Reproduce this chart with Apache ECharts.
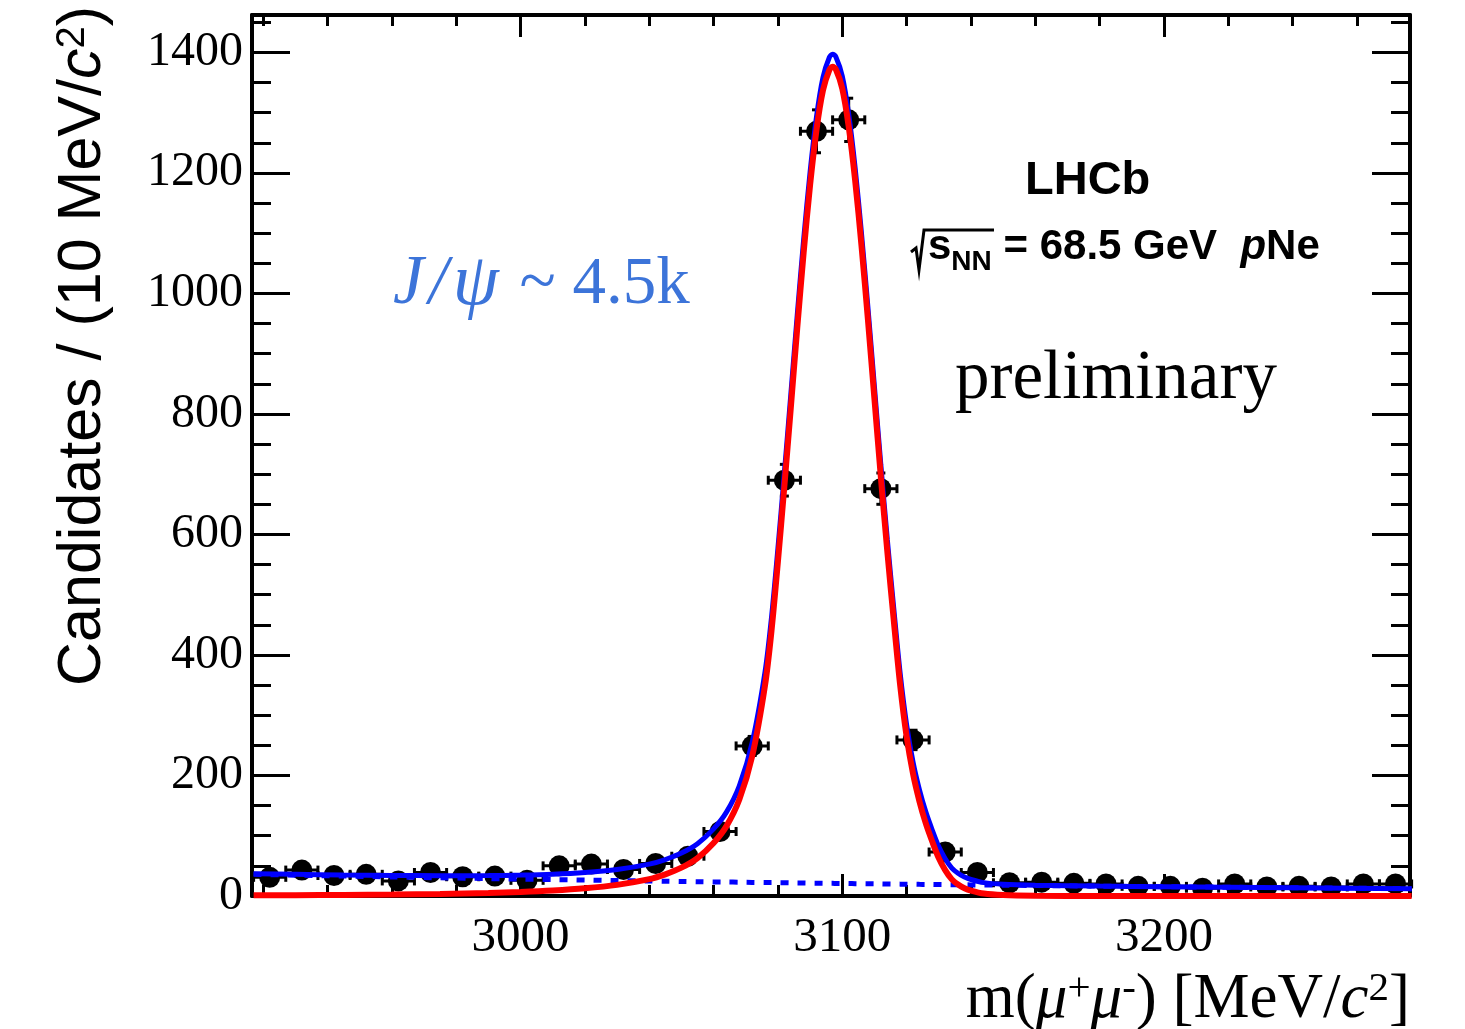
<!DOCTYPE html>
<html><head><meta charset="utf-8">
<script src="https://cdn.jsdelivr.net/npm/echarts@6/dist/echarts.min.js"></script>
<style>html,body{margin:0;padding:0;background:#fff}#c{width:1465px;height:1029px}</style>
</head><body><div id="c"></div>
<script>
// ---- data ----
const binCenters = [2922,2932,2942,2952,2962,2972,2982,2992,3002,3012,3022,3032,3042,3052,3062,3072,3082,3092,3102,3112,3122,3132,3142,3152,3162,3172,3182,3192,3202,3212,3222,3232,3242,3252,3262,3272];
const counts = [31,43,34,36,25,39,32,33,26,50,53,44,54,66,107,249,690,1269,1288,676,259,73,39,22,23,21,20,16,16,13,20,15,16,15,20,20];
const countErrors = [5.6,6.6,5.8,6.0,5.0,6.2,5.7,5.7,5.1,7.1,7.3,6.6,7.3,8.1,10.3,15.8,26.3,35.6,35.9,26.0,16.1,8.5,6.2,4.7,4.8,4.6,4.5,4.0,4.0,3.6,4.5,3.9,4.0,3.9,4.5,4.5];
const binHalfWidth = 5;

const curveMass = [2917,2930,2945,2960,2975,2990,3000,3010,3020,3030,3040,3045,3050,3055,3060,3064,3068,3072,3076,3078,3080,3082,3084,3086,3088,3090,3092,3094,3096,3097,3098,3100,3102,3104,3106,3108,3110,3112,3114,3116,3118,3120,3122,3124,3126,3128,3130,3132,3134,3136,3138,3140,3144,3150,3160,3180,3200,3240,3277];
const signalFit = [1.1,1.4,1.8,2.5,3.5,5.0,6.6,9.0,12.7,18.5,28,36,47,63,88,116,160,232,350,440,555,680,810,942,1068,1180,1272,1337,1371,1376,1372,1340,1277,1188,1078,955,825,695,572,458,350,265,203,157,120,90,63,43,28,19,13,9,4,1.5,0.4,0,0,0,0];
const backgroundFit = [36.0,34.6,33.1,31.6,30.2,28.9,28.1,27.2,26.4,25.6,24.9,24.5,24.2,23.8,23.4,23.2,22.9,22.6,22.3,22.2,22.1,22.0,21.8,21.7,21.6,21.4,21.3,21.2,21.0,21.0,20.9,20.8,20.7,20.5,20.4,20.3,20.2,20.1,19.9,19.8,19.7,19.6,19.5,19.3,19.2,19.1,19.0,18.9,18.8,18.7,18.6,18.4,18.2,17.9,17.4,16.4,15.4,13.7,12.2];
const totalFit = [37.1,36.0,34.9,34.1,33.7,33.9,34.7,36.2,39.1,44.1,52.9,60.5,71.2,86.8,111.4,139.2,182.9,254.6,372.3,462.2,577.1,702.0,831.8,963.7,1089.6,1201.4,1293.3,1358.2,1392.0,1397.0,1392.9,1360.8,1297.7,1208.5,1098.4,975.3,845.2,715.1,591.9,477.8,369.7,284.6,222.5,176.3,139.2,109.1,82.0,61.9,46.8,37.7,31.6,27.4,22.2,19.4,17.8,16.4,15.4,13.7,12.2];

const xMajorTicks = [3000,3100,3200];
const xMinorTicks = [2920,2940,2960,2980,3000,3020,3040,3060,3080,3100,3120,3140,3160,3180,3200,3220,3240,3260];
const yMajorTicks = [0,200,400,600,800,1000,1200,1400];
const yMinorTicks = [0,50,100,150,200,250,300,350,400,450,500,550,600,650,700,750,800,850,900,950,1000,1050,1100,1150,1200,1250,1300,1350,1400,1450];
const xRange = [2916.5, 3276.5];
const yRange = [0, 1462];

// ---- chart ----
const SERIF = "'Liberation Serif','Times New Roman',serif";
const SANS = "'Liberation Sans',Arial,Helvetica,sans-serif";
const chart = echarts.init(document.getElementById('c'), null, {renderer: 'canvas'});

function xAxisDef(pos, ticks, len, labels, line) {
  return {
    type: 'value', position: pos, min: xRange[0], max: xRange[1],
    axisLine: {show: line, onZero: false, lineStyle: {color: '#000', width: 4}},
    axisTick: {show: true, inside: true, length: len, customValues: ticks, lineStyle: {color: '#000', width: 3}},
    axisLabel: labels ? {show: true, customValues: xMajorTicks, formatter: v => String(v), fontFamily: SERIF, fontSize: 49, color: '#000', margin: 18} : {show: false},
    splitLine: {show: false}
  };
}
function yAxisDef(pos, ticks, len, labels, line) {
  return {
    type: 'value', position: pos, min: yRange[0], max: yRange[1],
    axisLine: {show: line, onZero: false, lineStyle: {color: '#000', width: 4}},
    axisTick: {show: true, inside: true, length: len, customValues: ticks, lineStyle: {color: '#000', width: 3}},
    axisLabel: labels ? {show: true, customValues: yMajorTicks, formatter: v => String(v), fontFamily: SERIF, fontSize: 48, color: '#000', margin: 9} : {show: false},
    splitLine: {show: false}
  };
}

const option = {
  animation: false,
  backgroundColor: '#fff',
  grid: {left: 252, right: 55, top: 15, bottom: 133, containLabel: false, outerBoundsMode: 'none'},
  xAxis: [
    xAxisDef('bottom', xMajorTicks, 22, true, true),
    xAxisDef('bottom', xMinorTicks, 11, false, false),
    xAxisDef('top', xMajorTicks, 22, false, true),
    xAxisDef('top', xMinorTicks, 11, false, false)
  ],
  yAxis: [
    yAxisDef('left', yMajorTicks, 38, true, true),
    yAxisDef('left', yMinorTicks, 19, false, false),
    yAxisDef('right', yMajorTicks, 38, false, true),
    yAxisDef('right', yMinorTicks, 19, false, false)
  ],
  series: [
    {
      type: 'custom', xAxisIndex: 0, yAxisIndex: 0, z: 2, clip: false,
      data: binCenters.map((m, i) => [m, counts[i], countErrors[i]]),
      renderItem: function (params, api) {
        const x = api.value(0), y = api.value(1), e = api.value(2);
        const pL = api.coord([x - binHalfWidth, y]);
        const pR = api.coord([x + binHalfWidth, y]);
        const pT = api.coord([x, y + e]);
        const pB = api.coord([x, y - e]);
        const c = 4.5;
        const st = {stroke: '#000', lineWidth: 3};
        const ln = (x1, y1, x2, y2) => ({type: 'line', shape: {x1, y1, x2, y2}, style: st});
        return {type: 'group', children: [
          ln(pL[0], pL[1], pR[0], pR[1]),
          ln(pT[0], pT[1], pB[0], pB[1]),
          ln(pL[0], pL[1] - c, pL[0], pL[1] + c),
          ln(pR[0], pR[1] - c, pR[0], pR[1] + c),
          ln(pT[0] - c, pT[1], pT[0] + c, pT[1]),
          ln(pB[0] - c, pB[1], pB[0] + c, pB[1])
        ]};
      }
    },
    {
      type: 'scatter', xAxisIndex: 0, yAxisIndex: 0, z: 3,
      symbol: 'circle', symbolSize: 21, itemStyle: {color: '#000', opacity: 1},
      emphasis: {disabled: true},
      data: binCenters.map((m, i) => [m, counts[i]])
    },
    {
      type: 'line', name: 'background', xAxisIndex: 0, yAxisIndex: 0, z: 4, clip: false,
      showSymbol: false, smooth: 0.3,
      lineStyle: {color: '#0000ff', width: 5, type: [8, 9]},
      data: curveMass.map((m, i) => [m, backgroundFit[i]])
    },
    {
      type: 'line', name: 'total', xAxisIndex: 0, yAxisIndex: 0, z: 5, clip: false,
      showSymbol: false, smooth: 0.3,
      lineStyle: {color: '#0000ff', width: 5},
      data: curveMass.map((m, i) => [m, totalFit[i]])
    },
    {
      type: 'line', name: 'signal', xAxisIndex: 0, yAxisIndex: 0, z: 6, clip: false,
      showSymbol: false, smooth: 0.3,
      lineStyle: {color: '#ff0000', width: 6},
      data: curveMass.map((m, i) => [m, signalFit[i]])
    }
  ],
  graphic: [
    {
      type: 'text', x: 83, y: 6, rotation: Math.PI / 2, z: 10,
      style: {
        text: '{n|Candidates / (10 MeV/}{i|c}{s|2}{n|)}',
        align: 'right', verticalAlign: 'middle',
        rich: {
          n: {fontFamily: SANS, fontSize: 61, lineHeight: 61, verticalAlign: 'bottom', fill: '#000'},
          i: {fontFamily: SANS, fontSize: 61, lineHeight: 61, fontStyle: 'italic', verticalAlign: 'bottom', fill: '#000'},
          s: {fontFamily: SANS, fontSize: 40, lineHeight: 20, verticalAlign: 'top', fill: '#000'}
        }
      }
    },
    {
      type: 'text', x: 1410, y: 969, z: 10,
      style: {
        text: '{n|m(}{i|μ}{s|+}{i|μ}{s|-}{n|) [MeV/}{i|c}{s|2}{n|]}',
        align: 'right', verticalAlign: 'top',
        rich: {
          n: {fontFamily: SERIF, fontSize: 63, lineHeight: 63, verticalAlign: 'bottom', fill: '#000'},
          i: {fontFamily: SERIF, fontSize: 63, lineHeight: 63, fontStyle: 'italic', verticalAlign: 'bottom', fill: '#000'},
          s: {fontFamily: SERIF, fontSize: 41, lineHeight: 20, verticalAlign: 'top', fill: '#000'}
        }
      }
    },
    {
      type: 'text', x: 393, y: 285, z: 10,
      style: {
        text: '{j|J}{sl|/}{p|ψ}{n| ~ 4.5k}',
        align: 'left', verticalAlign: 'middle',
        rich: {
          j: {fontFamily: SERIF, fontSize: 69, fontStyle: 'italic', fill: '#3c74d9', padding: [0, 3, 0, 0]},
          sl: {fontFamily: SERIF, fontSize: 69, fontStyle: 'italic', fill: '#3c74d9', padding: [0, 5, 0, 2]},
          p: {fontFamily: SERIF, fontSize: 74, fontStyle: 'italic', fill: '#3c74d9', padding: [0, 4, 0, 0]},
          n: {fontFamily: SERIF, fontSize: 67, fill: '#3c74d9'}
        }
      }
    },
    {
      type: 'text', x: 1025, y: 181, z: 10,
      style: {text: 'LHCb', fontFamily: SANS, fontWeight: 'bold', fontSize: 47, fill: '#000', align: 'left', verticalAlign: 'middle'}
    },
    {
      type: 'polyline', z: 10,
      shape: {points: [[911, 252], [916, 248], [919, 270], [924, 230], [994, 230]]},
      style: {stroke: '#000', lineWidth: 3, fill: null}
    },
    {
      type: 'text', x: 928, y: 226, z: 10,
      style: {
        text: '{m|s}{b|NN}{m| = 68.5 GeV  }{p|p}{m|Ne}',
        align: 'left', verticalAlign: 'top',
        rich: {
          m: {fontFamily: SANS, fontWeight: 'bold', fontSize: 42, lineHeight: 42, verticalAlign: 'top', fill: '#000'},
          p: {fontFamily: SANS, fontWeight: 'bold', fontStyle: 'italic', fontSize: 42, lineHeight: 42, verticalAlign: 'top', fill: '#000'},
          b: {fontFamily: SANS, fontWeight: 'bold', fontSize: 28, lineHeight: 50, verticalAlign: 'bottom', fill: '#000'}
        }
      }
    },
    {
      type: 'text', x: 955, y: 380, z: 10,
      style: {text: 'preliminary', fontFamily: SERIF, fontSize: 69, fill: '#000', align: 'left', verticalAlign: 'middle'}
    }
  ]
};
chart.setOption(option);
</script>
</body></html>
